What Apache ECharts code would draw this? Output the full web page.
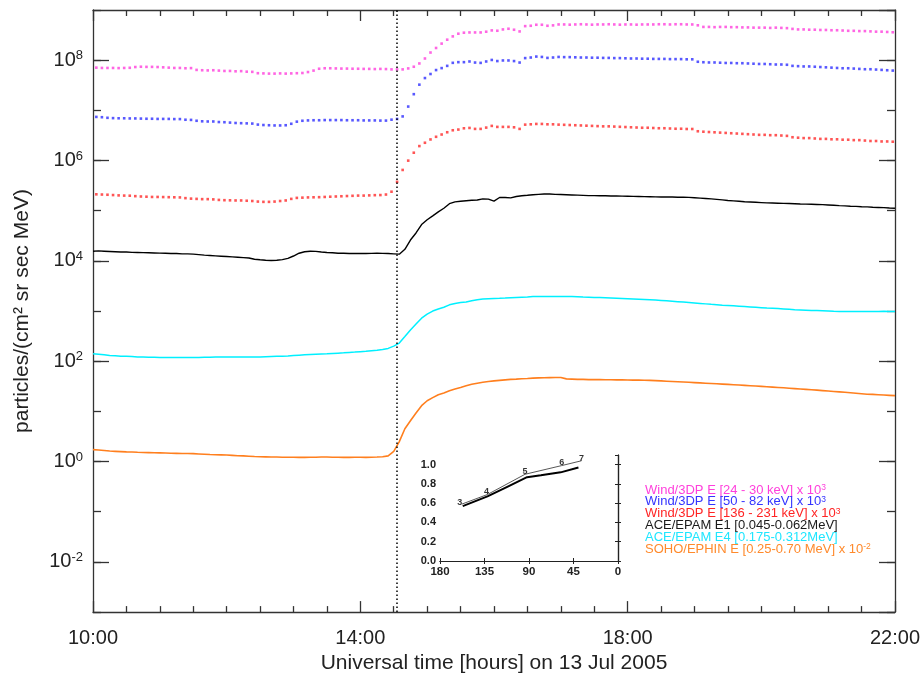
<!DOCTYPE html>
<html>
<head>
<meta charset="utf-8">
<script src="https://cdn.jsdelivr.net/npm/echarts@6.0.0/dist/echarts.min.js"></script>
<style>
  html, body { margin: 0; padding: 0; background: #fff; }
  #container { width: 923px; height: 679px; }
</style>
</head>
<body>
<div id="container"></div>
<script>
// Wind/3DP samples every 5 min starting 10:03 UT (values already x 10^3)
var windStartMin = 3;
var windStepMin = 5;
// ACE / SOHO samples every 5 min starting 10:00 UT
var lineStepMin = 5;

// Wind/3DP E [24 - 30 keV] x 10^3, in units of 1e7
var wind24E7 = [
  7.1, 7.0, 7.0, 7.0, 6.95, 7.0, 7.05, 7.3, 7.4, 7.35, 7.35, 7.3,
  7.2, 7.1, 7.0, 7.0, 6.9, 6.95, 6.4, 6.3, 6.25, 6.3, 6.2, 6.1,
  6.1, 6.0, 6.05, 5.9, 5.85, 5.5, 5.45, 5.4, 5.4, 5.45, 5.4, 5.45,
  5.5, 5.55, 5.8, 6.2, 6.75, 6.9, 6.9, 6.85, 6.8, 6.8, 6.75, 6.75,
  6.7, 6.7, 6.65, 6.7, 6.65, 6.55, 6.55, 6.55, 6.85, 7.4, 8.6, 10.8,
  14.2, 17.5, 21.4, 25.6, 29.8, 33.7, 35.3, 35.7, 35.7, 35.7, 36.9, 39.2,
  38.6, 41, 42.3, 40.4, 37.4, 47.7, 48.5, 50.8, 50.8, 48.5, 49.4, 51.5,
  51.5, 51, 51.5, 52, 51.5, 51, 51.5, 51.5, 52, 51.5, 51, 51.5,
  51.5, 51, 51.5, 51.5, 51.5, 52, 52, 51.5, 52, 52, 51.5, 51.5,
  49.5, 46, 46, 45.5, 46, 46, 45.5, 45.5, 45, 45, 44.5, 44.5,
  44.5, 44, 44.5, 44, 43.5, 42, 41, 41, 40.5, 40.5, 40, 40,
  39.5, 39.5, 39, 38.5, 38.5, 38, 38, 37.5, 37, 37, 36.5, 36
];

// Wind/3DP E [50 - 82 keV] x 10^3, in units of 1e6
var wind50E6 = [
  7.4, 7.3, 7.1, 7.0, 6.95, 6.95, 6.9, 6.9, 6.85, 6.8, 6.8, 6.75,
  6.75, 6.75, 6.7, 6.7, 6.5, 6.45, 6.2, 6.05, 6.0, 6.0, 5.85, 5.8,
  5.7, 5.6, 5.55, 5.5, 5.45, 5.2, 5.1, 5.05, 5.0, 5.0, 5.05, 5.4,
  5.95, 6.2, 6.3, 6.35, 6.35, 6.4, 6.4, 6.4, 6.4, 6.35, 6.35, 6.35,
  6.3, 6.3, 6.3, 6.25, 6.25, 6.52, 6.73, 7.57, 11.9, 21, 32.5, 44,
  53, 63.5, 69.5, 77, 88.5, 91.3, 91.3, 94.2, 89.7, 88.3, 94.2, 101,
  96, 98.7, 98.7, 96, 89.7, 110, 113, 118, 116, 111, 113, 116,
  115, 115, 114, 113, 113, 112, 112, 111, 111, 110, 110, 109,
  108, 108, 107, 107, 106, 106, 106, 105, 105, 105, 104, 104,
  93, 91, 90, 90, 89, 88, 88, 87, 87, 86, 85, 84,
  84, 83, 82, 82, 81, 77, 76, 75, 75, 74, 73, 72,
  71, 70, 69, 69, 68, 67, 66, 66, 65, 64, 63, 62
];

// Wind/3DP E [136 - 231 keV] x 10^3, in units of 1e5
var wind136E5 = [
  2.12, 2.1, 2.08, 2.05, 2.02, 2.0, 1.99, 1.95, 1.92, 1.9, 1.88, 1.88,
  1.87, 1.86, 1.85, 1.84, 1.78, 1.74, 1.72, 1.70, 1.70, 1.68, 1.64, 1.62,
  1.61, 1.60, 1.60, 1.58, 1.56, 1.52, 1.5, 1.5, 1.52, 1.56, 1.6, 1.72,
  1.8, 1.82, 1.84, 1.85, 1.86, 1.88, 1.9, 1.92, 1.94, 1.96, 1.98, 2.0,
  2.0, 2.02, 2.04, 2.05, 2.1, 2.39, 3.76, 6.49, 9.95, 14.3, 19.4, 22.6,
  26.3, 29.7, 33, 36.6, 40.1, 41.4, 43.9, 44.6, 42.7, 42.7, 45.3, 49,
  46.8, 46.8, 46.8, 45.9, 42.7, 51.9, 52.7, 53.6, 53.6, 52.7, 52.7, 51.9,
  51.5, 51, 50.5, 50, 49.5, 49, 48.5, 48, 48, 47.5, 47, 46.5,
  46, 45.5, 45, 45, 44.5, 44, 44, 43.5, 43, 43, 42.5, 42.5,
  38.3, 37.5, 37, 36.5, 36, 35.5, 35, 34.5, 34, 33.5, 33, 32.5,
  32.5, 32, 32, 31.5, 31, 29.1, 28.5, 28, 28, 27.5, 27, 27,
  26.5, 26.5, 26, 26, 25.5, 25.5, 25, 24.5, 24.5, 24, 24, 23.7
];

// ACE/EPAM E1 [0.045-0.062 MeV], in units of 1e4
var aceE1E4 = [
  1.56, 1.58, 1.56, 1.54, 1.52, 1.5, 1.5, 1.48, 1.47, 1.46, 1.45, 1.44,
  1.43, 1.42, 1.4, 1.4, 1.38, 1.38, 1.36, 1.33, 1.3, 1.28, 1.26, 1.24,
  1.22, 1.2, 1.18, 1.16, 1.14, 1.08, 1.05, 1.03, 1.02, 1.03, 1.06, 1.12,
  1.25, 1.42, 1.52, 1.56, 1.55, 1.5, 1.47, 1.45, 1.42, 1.42, 1.4, 1.4,
  1.4, 1.4, 1.41, 1.42, 1.41, 1.4, 1.38, 1.36, 1.7, 2.6, 3.6, 5.3,
  6.6, 7.9, 9.5, 11.2, 13.8, 15, 15.4, 15.8, 16.1, 16.3, 17.2, 17,
  15.5, 18.3, 18.3, 18, 19.2, 19.9, 20.3, 20.8, 21.2, 21.5, 21.5, 21.2,
  21, 20.8, 20.6, 20.4, 20.2, 20, 20, 19.9, 19.8, 19.7, 19.6, 19.5,
  19.4, 19.3, 19.2, 19.1, 19, 18.9, 18.8, 18.8, 18.7, 18.6, 18.5, 18.4,
  18.1, 17.8, 17.5, 17.2, 16.8, 16.4, 16, 15.7, 15.4, 15.1, 14.9, 14.7,
  14.5, 14.3, 14.2, 14.1, 14, 13.9, 13.8, 13.6, 13.5, 13.4, 13.3, 13.2,
  13, 12.8, 12.6, 12.5, 12.3, 12.2, 12, 11.9, 11.7, 11.6, 11.5, 11.3,
  11.2
];

// ACE/EPAM E4 [0.175-0.312 MeV]
var aceE4 = [
  141, 138, 134, 130, 128, 126, 125, 124, 122, 121, 120, 120,
  119, 118, 118, 119, 118, 118, 119, 119, 120, 120, 121, 121,
  122, 122, 122, 121, 122, 122, 122, 123, 124, 125, 126, 127,
  130, 132, 134, 136, 138, 140, 141, 143, 145, 147, 150, 152,
  155, 158, 162, 166, 172, 180, 200, 230, 310, 420, 550, 720,
  870, 1000, 1100, 1190, 1330, 1420, 1480, 1520, 1600, 1680, 1740, 1760,
  1780, 1790, 1810, 1840, 1870, 1890, 1910, 1940, 1950, 1950, 1960, 1950,
  1950, 1940, 1940, 1920, 1900, 1890, 1870, 1860, 1840, 1820, 1800, 1780,
  1760, 1740, 1720, 1700, 1680, 1660, 1630, 1600, 1570, 1540, 1510, 1480,
  1450, 1420, 1390, 1360, 1340, 1310, 1290, 1270, 1250, 1230, 1210, 1190,
  1170, 1150, 1140, 1120, 1100, 1080, 1060, 1050, 1040, 1030, 1020, 1010,
  1000, 990, 985, 980, 980, 975, 980, 985, 980, 985, 990, 985,
  985
];

// SOHO/EPHIN E [0.25-0.70 MeV] x 10^-2
var sohoE = [
  1.73, 1.7, 1.66, 1.62, 1.6, 1.58, 1.56, 1.55, 1.53, 1.52, 1.51, 1.5,
  1.49, 1.48, 1.47, 1.46, 1.45, 1.45, 1.44, 1.42, 1.4, 1.38, 1.37, 1.36,
  1.35, 1.33, 1.31, 1.3, 1.28, 1.26, 1.25, 1.24, 1.23, 1.23, 1.22, 1.22,
  1.22, 1.21, 1.21, 1.22, 1.22, 1.23, 1.23, 1.22, 1.22, 1.21, 1.21, 1.22,
  1.22, 1.21, 1.22, 1.23, 1.25, 1.3, 1.6, 2.5, 4.5, 6.5, 9.3, 13,
  16.3, 18.8, 21.5, 23.3, 25.8, 27.9, 30, 32.5, 34.8, 36.5, 38, 39.5,
  40.5, 41.5, 42.5, 43.5, 44, 44.7, 45.3, 46, 46.5, 47, 47.2, 47.4,
  47.5, 44.5, 44, 43.5, 43.5, 43, 43, 43, 42.7, 42.7, 42.5, 42.5,
  42.3, 42, 42, 41.8, 41.5, 41, 40.5, 40, 39.5, 39, 38.5, 38,
  37.5, 37, 36.5, 36, 35.5, 35, 34.5, 34, 33.5, 33, 32.5, 32,
  31.5, 31, 30.5, 30, 29.5, 29, 28.5, 28, 27.5, 27, 26.5, 26,
  25.5, 25, 24.5, 24, 23.5, 23, 22.5, 22, 21.8, 21.5, 21.2, 20.9,
  20.6
];

// shock / onset marker (hours UT)
var onsetHour = 14.55;

// inset: angle (deg) vs normalised value
var insetFit = [[157, 0.57], [132, 0.67], [112, 0.77], [92, 0.87], [78, 0.89], [58, 0.92], [40, 0.97]];
var insetObs = [[158, 0.59], [132, 0.69], [94, 0.9], [57, 0.99], [37, 1.04]];
var insetPoints = [[160, 0.61], [133, 0.72], [94, 0.93], [57, 1.02], [37, 1.06]];
var insetPointNames = ['3', '4', '5', '6', '7'];

var legendLines = [
  { text: 'Wind/3DP E [24 - 30 keV] x 10{sup|3}', color: '#ff3fdc' },
  { text: 'Wind/3DP E [50 - 82 keV] x 10{sup|3}', color: '#3434ff' },
  { text: 'Wind/3DP E [136 - 231 keV] x 10{sup|3}', color: '#ff2424' },
  { text: 'ACE/EPAM E1 [0.045-0.062MeV]', color: '#1a1a1a' },
  { text: 'ACE/EPAM E4 [0.175-0.312MeV]', color: '#1ee6ff' },
  { text: 'SOHO/EPHIN E [0.25-0.70 MeV] x 10{sup|-2}', color: '#ff8a2c' }
];

function windTime(i) { return 10 + (windStartMin + windStepMin * i) / 60; }
function lineTime(i) { return 10 + (lineStepMin * i) / 60; }
function windPairs(vals, unit) {
  return vals.map(function (v, i) { return [windTime(i), v * unit]; });
}
function linePairs(vals, unit) {
  return vals.map(function (v, i) { return [lineTime(i), v * unit]; });
}

var font = 'Liberation Sans, Arial, Helvetica, sans-serif';
var axisColor = '#333';
var axisLineStyle = { color: axisColor, width: 1.3 };

var dom = document.getElementById('container');
var myChart = echarts.init(dom, null, { renderer: 'canvas' });

function mainX(pos, showLabel) {
  return {
    gridIndex: 0,
    type: 'value',
    position: pos,
    min: 10,
    max: 22,
    interval: 4,
    axisLine: { lineStyle: axisLineStyle },
    axisTick: { inside: true, length: 11, lineStyle: axisLineStyle },
    minorTick: { show: true, splitNumber: 8, length: 6, lineStyle: axisLineStyle },
    splitLine: { show: false },
    minorSplitLine: { show: false },
    axisLabel: {
      show: showLabel,
      formatter: function (v) { return v + ':00'; },
      fontSize: 20,
      color: '#222',
      margin: 16
    },
    name: showLabel ? 'Universal time [hours] on 13 Jul 2005' : '',
    nameLocation: 'middle',
    nameGap: 38,
    nameTextStyle: { fontSize: 21, color: '#222' }
  };
}

function mainY(pos, major, showLabel) {
  var ax = {
    gridIndex: 0,
    type: 'log',
    position: pos,
    logBase: major ? 100 : 10,
    min: 1e-3,
    max: 1e9,
    axisLine: { show: major, lineStyle: axisLineStyle },
    axisTick: { inside: true, length: major ? 16 : 8, lineStyle: axisLineStyle },
    splitLine: { show: false },
    axisLabel: {
      show: showLabel,
      showMinLabel: false,
      showMaxLabel: false,
      fontSize: 20,
      lineHeight: 22,
      color: '#222',
      margin: 10,
      formatter: function (v) {
        return '10{sup|' + Math.round(Math.log10(v)) + '}';
      },
      rich: { sup: { fontSize: 13, lineHeight: 13, verticalAlign: 'top', color: '#222' } }
    }
  };
  if (!major) ax.interval = 1;
  if (showLabel) {
    ax.name = 'particles/(cm\u00b2 sr sec MeV)';
    ax.nameLocation = 'middle';
    ax.nameGap = 60;
    ax.nameTextStyle = { fontSize: 21, color: '#222' };
  }
  return ax;
}

function insetX(pos, showLabel) {
  return {
    gridIndex: 1,
    type: 'value',
    position: pos,
    min: 0,
    max: 180,
    interval: 45,
    inverse: true,
    axisLine: { lineStyle: { color: '#222', width: 1.2 } },
    axisTick: { inside: true, length: 3, lineStyle: { color: '#222', width: 1 } },
    splitLine: { show: false },
    axisLabel: { show: showLabel, fontSize: 11.5, fontWeight: 'bold', color: '#222', margin: 5 }
  };
}

function insetY(pos, showLabel) {
  return {
    gridIndex: 1,
    type: 'value',
    position: pos,
    min: 0,
    max: 1.1,
    interval: 0.2,
    axisLine: { lineStyle: { color: '#222', width: 1.2 } },
    axisTick: { inside: true, length: 3, lineStyle: { color: '#222', width: 1 } },
    splitLine: { show: false },
    axisLabel: {
      show: showLabel,
      showMaxLabel: false,
      fontSize: 11,
      fontWeight: 'bold',
      color: '#222',
      margin: 4,
      formatter: function (v) { return v.toFixed(1); }
    }
  };
}

function windSeries(vals, unit, color) {
  return {
    type: 'scatter',
    xAxisIndex: 0,
    yAxisIndex: 0,
    data: windPairs(vals, unit),
    symbol: 'rect',
    symbolSize: 2.6,
    itemStyle: { color: color },
    silent: true
  };
}

function lineSeries(vals, unit, color, width) {
  return {
    type: 'line',
    xAxisIndex: 0,
    yAxisIndex: 0,
    data: linePairs(vals, unit),
    showSymbol: false,
    symbol: 'none',
    lineStyle: { color: color, width: width },
    silent: true
  };
}

var aceSeries = lineSeries(aceE1E4, 1e4, '#000', 1.4);
aceSeries.markLine = {
  silent: true,
  symbol: ['none', 'none'],
  label: { show: false },
  lineStyle: { type: [1.5, 2.5], color: '#000', width: 1.5 },
  data: [{ xAxis: onsetHour }]
};

var option = {
  backgroundColor: '#fff',
  animation: false,
  textStyle: { fontFamily: font },
  grid: [
    { left: 93, top: 10, width: 805, height: 606, containLabel: false },
    { left: 440, top: 455, width: 178, height: 106, containLabel: false }
  ],
  xAxis: [
    mainX('bottom', true),
    mainX('top', false),
    insetX('bottom', true),
    insetX('top', false)
  ],
  yAxis: [
    mainY('left', true, true),
    mainY('left', false, false),
    mainY('right', true, false),
    mainY('right', false, false),
    insetY('left', true),
    insetY('right', false)
  ],
  series: [
    windSeries(wind24E7, 1e7, '#ff3fdc'),
    windSeries(wind50E6, 1e6, '#2e2eff'),
    windSeries(wind136E5, 1e5, '#ff2a2a'),
    aceSeries,
    lineSeries(aceE4, 1, '#00f0ff', 1.5),
    lineSeries(sohoE, 1, '#ff7f1e', 1.6),
    {
      type: 'line', xAxisIndex: 2, yAxisIndex: 4, data: insetObs,
      showSymbol: false, symbol: 'none',
      lineStyle: { color: '#444', width: 0.9 }, silent: true
    },
    {
      type: 'line', xAxisIndex: 2, yAxisIndex: 4, data: insetFit,
      showSymbol: false, symbol: 'none',
      lineStyle: { color: '#000', width: 2 }, silent: true
    },
    {
      type: 'scatter', xAxisIndex: 2, yAxisIndex: 4, data: insetPoints,
      symbolSize: 0.1, silent: true,
      label: {
        show: true, position: 'inside', fontSize: 9, fontWeight: 'bold', color: '#000',
        formatter: function (p) { return insetPointNames[p.dataIndex]; }
      }
    }
  ],
  graphic: legendLines.map(function (l, k) {
    return {
      type: 'text',
      x: 645,
      y: 490 + k * 11.8,
      silent: true,
      style: {
        text: l.text,
        fill: l.color,
        font: '13px ' + font,
        verticalAlign: 'middle',
        rich: { sup: { fontSize: 8.5, lineHeight: 9, verticalAlign: 'top', fill: l.color } }
      }
    };
  })
};

if (option && typeof option === 'object') {
  myChart.setOption(option, true);
}
</script>
</body>
</html>
